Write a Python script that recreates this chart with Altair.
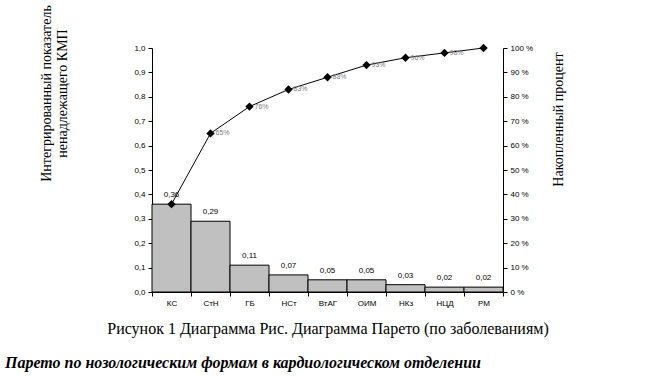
import altair as alt
import pandas as pd

categories = ["КС", "СтН", "ГБ", "НСт", "ВтАГ", "ОИМ", "НКз", "НЦД", "РМ"]
values = [0.36, 0.29, 0.11, 0.07, 0.05, 0.05, 0.03, 0.02, 0.02]
cumulative = [36, 65, 76, 83, 88, 93, 96, 98, 100]
show_pct = [False, True, True, True, True, True, True, True, False]

left_title = ["Интегрированный показатель", "ненадлежащего КМП"]
right_title = "Накопленный процент"
caption = "Рисунок 1 Диаграмма Рис. Диаграмма Парето (по заболеваниям)"
footer = "Парето по нозологическим формам в кардиологическом отделении"

df = pd.DataFrame({
    "cat": categories,
    "value": values,
    "cum": cumulative,
    "show": show_pct,
})

SANS = "Liberation Sans"
SERIF = "Liberation Serif"

x_enc = alt.X(
    "cat:N", sort=categories,
    scale=alt.Scale(paddingInner=0, paddingOuter=0),
    axis=alt.Axis(title=None, labelAngle=0, labelFont=SANS, labelFontSize=8,
                  labelColor="black", domainColor="black", tickColor="black",
                  tickSize=4, labelPadding=3, tickBand="extent"),
)

y_left = alt.Y(
    "value:Q",
    scale=alt.Scale(domain=[0, 1], nice=False),
    axis=alt.Axis(title=left_title, orient="left",
                  values=[i / 10 for i in range(11)],
                  labelExpr="replace(format(datum.value, '.1f'), '.', ',')",
                  labelFont=SANS, labelFontSize=8, labelColor="black",
                  domainColor="black", tickColor="black", tickSize=4,
                  labelPadding=3, grid=False,
                  titleFont=SERIF, titleFontSize=14, titleFontWeight="normal",
                  titleColor="black", titleAngle=270, titleAlign="center",
                  titleBaseline="middle", titleX=-106, titleY=45,
                  titleLineHeight=16),
)

bars = alt.Chart(df).mark_bar(
    fill="#c0c0c0", stroke="black", strokeWidth=1
).encode(x=x_enc, y=y_left)

bar_text = alt.Chart(df).transform_calculate(
    lbl="replace(format(datum.value, '.2f'), '.', ',')"
).mark_text(
    font=SANS, fontSize=8, color="black", baseline="bottom", dy=-5
).encode(x=x_enc, y=y_left, text="lbl:N")

left = alt.layer(bars, bar_text)

y_right = alt.Y(
    "cum:Q",
    scale=alt.Scale(domain=[0, 100], nice=False),
    axis=alt.Axis(title=right_title, orient="right",
                  values=list(range(0, 101, 10)),
                  labelExpr="datum.value + ' %'",
                  labelFont=SANS, labelFontSize=8, labelColor="black",
                  domainColor="black", tickColor="black", tickSize=4,
                  labelPadding=3, grid=False,
                  titleFont=SERIF, titleFontSize=14, titleFontWeight="normal",
                  titleColor="black", titleAngle=270, titleAlign="center",
                  titleBaseline="middle", titleX=55, titleY=71),
)

line = alt.Chart(df).mark_line(color="black", strokeWidth=1).encode(
    x=x_enc, y=y_right
)
points = alt.Chart(df).mark_point(
    shape="diamond", filled=True, color="black", size=70, opacity=1
).encode(x=x_enc, y=y_right)

pct_text = alt.Chart(df).transform_filter("datum.show").transform_calculate(
    lbl="datum.cum + '%'"
).mark_text(
    font=SANS, fontSize=7, color="#808080", align="left", baseline="middle", dx=5
).encode(x=x_enc, y=y_right, text="lbl:N")

right = alt.layer(line, points, pct_text)

caption_mark = alt.Chart(pd.DataFrame({"t": [caption]})).mark_text(
    font=SERIF, fontSize=16, color="black", align="center", baseline="middle"
).encode(x=alt.value(176), y=alt.value(281), text="t:N")

footer_mark = alt.Chart(pd.DataFrame({"t": [footer]})).mark_text(
    font=SERIF, fontSize=16, fontStyle="italic", fontWeight="bold",
    color="black", align="left", baseline="middle"
).encode(x=alt.value(-147), y=alt.value(315), text="t:N")

chart = alt.layer(left, right, caption_mark, footer_mark).resolve_scale(
    y="independent"
).properties(
    width=351, height=244,
    autosize=alt.AutoSizeParams(type="none"),
    padding={"left": 152, "top": 48, "right": 148, "bottom": 85},
    background="white",
).configure_view(strokeWidth=0)

chart.save("out.html", embed_options={"renderer": "svg", "actions": False})
